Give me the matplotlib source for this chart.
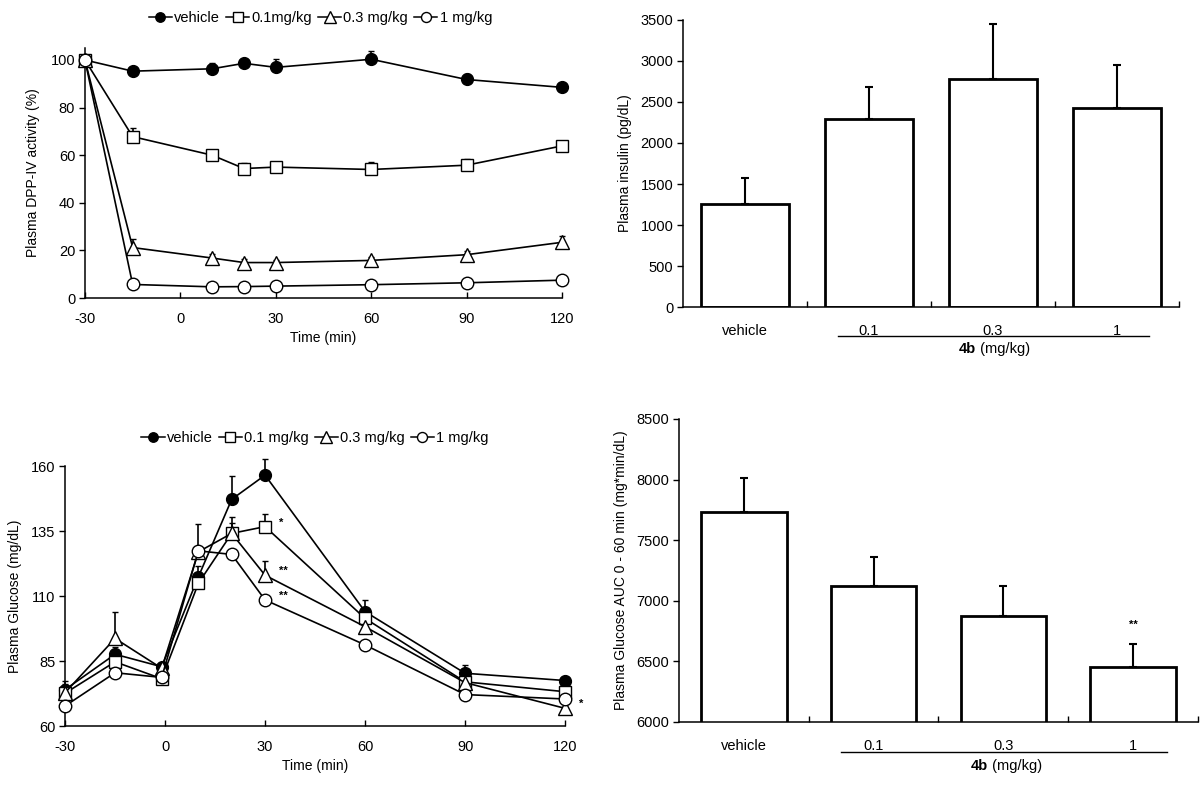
import matplotlib
matplotlib.use("Agg")
import matplotlib.pyplot as plt
import numpy as np
from matplotlib.lines import Line2D

plt.rcParams['font.family'] = ['Liberation Sans', 'DejaVu Sans']
plt.rcParams['font.size'] = 10
plt.rcParams['axes.unicode_minus'] = False

# ---------------- Data ----------------
# Panel A: DPP-IV activity
timeA = [-30, -15, 10, 20, 30, 60, 90, 120]
dppA_vehicle = [100, 95.3, 96.3, 98.6, 96.9, 100.3, 91.8, 88.5]
dppA_01 = [100, 67.8, 60.0, 54.4, 55.0, 54.0, 55.8, 63.9]
dppA_03 = [100, 21.2, 16.8, 14.9, 14.9, 15.8, 18.2, 23.4]
dppA_1 = [100, 5.7, 4.7, 4.8, 5.0, 5.6, 6.4, 7.5]
errA_vehicle = [0, 1.5, 2.5, 1.5, 3.5, 3.5, 2.5, 1.5]
errA_01 = [0, 3.5, 1.5, 2.5, 2.0, 3.0, 2.5, 2.0]
errA_03 = [0, 3.5, 1.5, 1.5, 1.0, 1.5, 1.5, 2.5]
errA_1 = [0, 1.0, 1.0, 1.0, 1.0, 1.0, 1.0, 1.0]
legendA = ['vehicle', '0.1mg/kg', '0.3 mg/kg', '1 mg/kg']

# Panel B: insulin
categories = ['vehicle', '0.1', '0.3', '1']
insulin = [1262, 2295, 2780, 2421]
insulin_err = [313, 383, 671, 530]

# Panel C: glucose
timeC = [-30, -15, -1, 10, 20, 30, 60, 90, 120]
gluC_vehicle = [74.0, 87.6, 82.8, 117.4, 147.2, 156.5, 104.0, 80.3, 77.5]
gluC_01 = [72.6, 84.7, 78.2, 114.9, 134.1, 136.7, 101.4, 77.0, 73.2]
gluC_03 = [72.8, 93.7, 82.2, 127.0, 134.1, 118.0, 98.2, 76.7, 66.8]
gluC_1 = [67.7, 80.5, 78.7, 127.4, 126.0, 108.5, 91.2, 72.1, 70.4]
errC_vehicle = [2.0, 2.8, 1.5, 4.3, 9.0, 6.1, 4.5, 3.2, 1.5]
errC_01 = [2.0, 2.0, 1.5, 2.0, 4.0, 4.8, 2.0, 1.5, 1.5]
errC_03 = [4.6, 10.3, 1.5, 10.7, 6.2, 5.6, 2.0, 1.5, 1.5]
errC_1 = [1.5, 1.5, 1.5, 1.5, 1.5, 1.5, 1.5, 1.5, 1.5]
legendC = ['vehicle', '0.1 mg/kg', '0.3 mg/kg', '1 mg/kg']
starsC = [(30, 136.7, '*'), (30, 118.0, '**'), (30, 108.5, '**'), (120, 66.8, '*')]

# Panel D: AUC
auc = [7732, 7119, 6878, 6456]
auc_err = [279, 246, 241, 185]
starsD = [(3, '**')]

# ---------------- Figure ----------------
fig = plt.figure(figsize=(12, 7.96), dpi=100)

styles = [dict(marker='o', mfc='black', mec='black'),
          dict(marker='s', mfc='white', mec='black'),
          dict(marker='^', mfc='white', mec='black'),
          dict(marker='o', mfc='white', mec='black')]
msizes = [8.5, 9, 10, 9]


def style_axes(ax):
    for s in ['top', 'right']:
        ax.spines[s].set_visible(False)
    for s in ['left', 'bottom']:
        ax.spines[s].set_linewidth(1.1)


def line_panel(ax, t, ys, errs):
    for y, e, st, ms in zip(ys, errs, styles, msizes):
        ax.errorbar(t, y, yerr=[np.zeros(len(e)), e], color='black', lw=1.2,
                    elinewidth=1.2, capsize=2.5, capthick=1.2, ms=ms,
                    mew=1.0, clip_on=False, zorder=3, **st)
    style_axes(ax)
    ax.set_xticks([-30, 0, 30, 60, 90, 120])
    ax.tick_params(axis='x', direction='in', length=4, width=1.0, pad=10,
                   labelsize=10.5)
    ax.tick_params(axis='y', direction='out', length=4, width=1.0, pad=3,
                   labelsize=10.5)
    ax.set_xlabel('Time (min)', fontsize=10, labelpad=4)


def legend_handles():
    return [Line2D([], [], color='black', lw=1.1, ms=ms * 0.8, mew=1.0, **st)
            for st, ms in zip(styles, msizes)]


# Panel A
axA = fig.add_axes([0.0708, 0.6256, 0.3975, 0.314])
line_panel(axA, timeA, [dppA_vehicle, dppA_01, dppA_03, dppA_1],
           [errA_vehicle, errA_01, errA_03, errA_1])
axA.set_xlim(-30, 120)
axA.set_ylim(0, 105)
axA.set_yticks([0, 20, 40, 60, 80, 100])
axA.set_ylabel('Plasma DPP-IV activity (%)', fontsize=10, labelpad=8)
fig.legend(legend_handles(), legendA, loc='center', bbox_to_anchor=(0.267, 0.977),
           ncol=4, frameon=False, handlelength=1.6, handletextpad=0.15,
           columnspacing=0.4, fontsize=10.5, borderpad=0)

# Panel C
axC = fig.add_axes([0.0542, 0.0879, 0.4167, 0.3266])
line_panel(axC, timeC, [gluC_vehicle, gluC_01, gluC_03, gluC_1],
           [errC_vehicle, errC_01, errC_03, errC_1])
axC.set_xlim(-30, 120)
axC.set_ylim(60, 160)
axC.set_yticks([60, 85, 110, 135, 160])
axC.set_ylabel('Plasma Glucose (mg/dL)', fontsize=10, labelpad=6)
for x, y, s in starsC:
    axC.annotate(s, (x, y), xytext=(10, 3), textcoords='offset points',
                 fontsize=8, fontweight='bold', ha='left', va='center')
fig.legend(legend_handles(), legendC, loc='center', bbox_to_anchor=(0.2625, 0.4497),
           ncol=4, frameon=False, handlelength=1.6, handletextpad=0.15,
           columnspacing=0.4, fontsize=10.5, borderpad=0)


def bar_panel(ax, vals, errs, width, split_x):
    x = np.arange(len(categories))
    ax.bar(x, vals, width=width, color='white', edgecolor='black', lw=2.0, zorder=2)
    ax.errorbar(x, vals, yerr=[np.zeros(len(errs)), errs], fmt='none',
                ecolor='black', elinewidth=1.5, capsize=3, capthick=1.5,
                zorder=3, clip_on=False)
    style_axes(ax)
    ax.set_xlim(-0.5, 3.5)
    ax.set_xticks(x)
    ax.set_xticklabels(categories, fontsize=10.5)
    ax.set_xticks([0.5, 1.5, 2.5, 3.5], minor=True)
    ax.tick_params(axis='x', which='major', length=0, pad=12)
    ax.tick_params(axis='x', which='minor', direction='in', length=4, width=1.0)
    ax.tick_params(axis='y', direction='out', length=4, width=1.0, pad=3,
                   labelsize=10.5)
    tr = ax.get_xaxis_transform()
    ax.plot([0.75, 3.26], [-0.10, -0.10], transform=tr, color='black', lw=1.0,
            clip_on=False)
    ax.text(split_x, -0.146, '4b', transform=tr, fontweight='bold', ha='right',
            va='center', fontsize=10.5)
    ax.text(split_x, -0.146, ' (mg/kg)', transform=tr, ha='left', va='center',
            fontsize=10.5)


# Panel B
axB = fig.add_axes([0.5692, 0.6143, 0.4133, 0.3606])
bar_panel(axB, insulin, insulin_err, 0.71, 1.86)
axB.set_ylim(0, 3500)
axB.set_yticks(np.arange(0, 3501, 500))
axB.set_ylabel('Plasma insulin (pg/dL)', fontsize=10, labelpad=6)

# Panel D
axD = fig.add_axes([0.5658, 0.0930, 0.4325, 0.3807])
bar_panel(axD, auc, auc_err, 0.66, 1.88)
axD.set_ylim(6000, 8500)
axD.set_yticks(np.arange(6000, 8501, 500))
axD.set_ylabel('Plasma Glucose AUC 0 - 60 min (mg*min/dL)', fontsize=10, labelpad=6)
for i, s in starsD:
    axD.annotate(s, (i, auc[i] + auc_err[i]), xytext=(0, 14), textcoords='offset points',
                 fontsize=8, fontweight='bold', ha='center', va='center')

fig.savefig('out.png', dpi=100)
